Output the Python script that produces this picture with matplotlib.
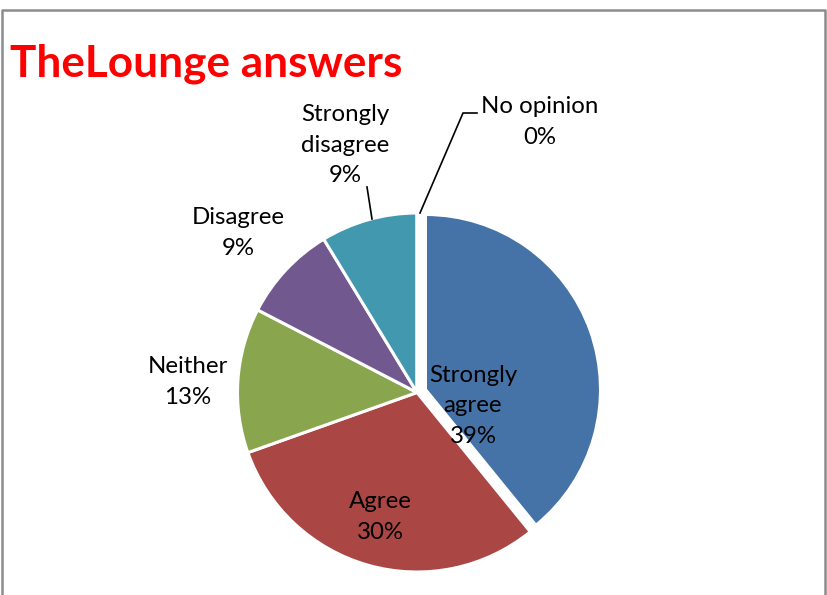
import matplotlib
matplotlib.use("Agg")
import matplotlib.pyplot as plt
from matplotlib.lines import Line2D

categories = ["Strongly agree", "Agree", "Neither", "Disagree", "Strongly disagree", "No opinion"]
counts = [9, 7, 3, 2, 2, 0]
pct_labels = ["39%", "30%", "13%", "9%", "9%", "0%"]
colors = ["#4572A7", "#AA4643", "#89A54E", "#71588F", "#4198AF", "#DB843D"]
title = "TheLounge answers"

W, H = 827, 595
fig = plt.figure(figsize=(W / 100, H / 100), dpi=100)
ax = fig.add_axes([0, 0, 1, 1])

def fy(y):
    return H - y

# explode is in data units (pixels here)
explode = [9, 0, 0, 0, 0, 0]
wedges, _ = ax.pie(counts, colors=colors, startangle=90, counterclock=False,
                   center=(417, fy(392.5)), radius=179.5, explode=explode,
                   wedgeprops=dict(edgecolor="white", linewidth=2.2))
# exploded slice is drawn slightly smaller, as in the original
wedges[0].set_radius(175)
ax.set_xlim(0, W)
ax.set_ylim(0, H)
ax.set_aspect("equal")
ax.axis("off")

font = "Lato"
fs = 17.3
label_text = {
    "Strongly agree": ("Strongly\nagree", 473, 406),
    "Agree": ("Agree", 380, 517),
    "Neither": ("Neither", 188, 382),
    "Disagree": ("Disagree", 238, 233),
    "Strongly disagree": ("Strongly\ndisagree", 345, 145),
    "No opinion": ("No opinion", 540, 122),
}
for cat, pct in zip(categories, pct_labels):
    name, x, y = label_text[cat]
    txt = name + "\n" + pct
    ax.text(x, fy(y), txt, ha="center", va="center", fontsize=fs,
            family=font, color="black", linespacing=1.57)

# leader lines
ax.add_line(Line2D([367, 372], [fy(187), fy(219)], color="black", lw=1.2))
ax.add_line(Line2D([420, 463, 477], [fy(213), fy(113), fy(113)], color="black", lw=1.2))

# title
ax.text(10, fy(64), title, ha="left", va="center", fontsize=31.8,
        family=font, fontweight="bold", color="#FF0000")

# chart border
ax.add_line(Line2D([2, 2, 825, 825], [0, fy(10), fy(10), 0], color="#8C8C8C", lw=1.8))

fig.savefig("out.png", dpi=100)
